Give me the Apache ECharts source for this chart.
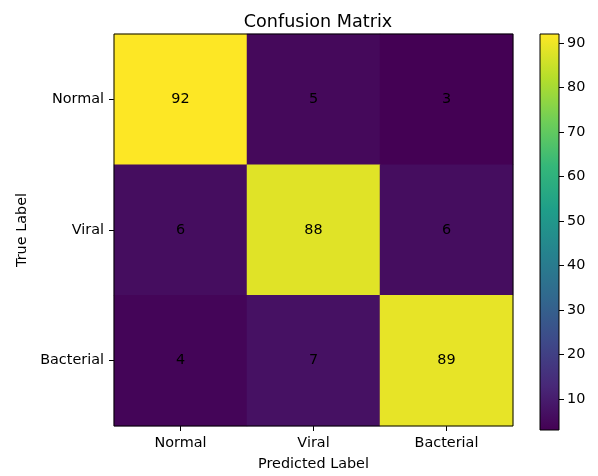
<!DOCTYPE html>
<html>
<head>
<meta charset="utf-8">
<script src="https://cdn.jsdelivr.net/npm/echarts@6/dist/echarts.min.js"></script>
<style>
  html, body { margin: 0; padding: 0; background: #fff; }
  #chart { width: 598px; height: 476px; }
</style>
</head>
<body>
<div id="chart"></div>
<script>
// class labels (rows = true label, columns = predicted label)
const classes = ["Normal", "Viral", "Bacterial"];
const rowNormal = [92, 5, 3];
const rowViral = [6, 88, 6];
const rowBacterial = [4, 7, 89];
const colorbarTicks = [10, 20, 30, 40, 50, 60, 70, 80, 90];

// viridis stops
const viridis = ["#440154", "#482878", "#3e4989", "#31688e", "#26828e",
  "#1f9e89", "#35b779", "#6ece58", "#b5de2b", "#fde725"];

const rows = [rowNormal, rowViral, rowBacterial];
const cells = [];
rows.forEach((r, i) => r.forEach((v, j) => cells.push([j, i, v])));
const allVals = cells.map(c => c[2]);
const vMin = Math.min(...allVals);
const vMax = Math.max(...allVals);

const font = "DejaVu Sans";
const fs = 14.4;
const txt = { color: "#000", fontFamily: font, fontSize: fs };

// gradient for the colour bar, top = max
const barStops = viridis.map((c, k) => ({ offset: 1 - k / (viridis.length - 1), color: c }));

const chart = echarts.init(document.getElementById("chart"));
chart.setOption({
  animation: false,
  backgroundColor: "#fff",
  title: {
    text: "Confusion Matrix",
    left: 313,
    top: 8,
    textAlign: "center",
    textStyle: { color: "#000", fontFamily: font, fontSize: 17.6, fontWeight: "normal" }
  },
  grid: [
    { left: 114, top: 34, width: 399, height: 396, show: true, borderColor: "#000", borderWidth: 1, backgroundColor: "transparent", z: 5 },
    { left: 540, top: 34, width: 19, height: 396, show: true, borderColor: "#000", borderWidth: 1, backgroundColor: "transparent", z: 5 }
  ],
  xAxis: [
    {
      type: "category", data: classes, gridIndex: 0,
      name: "Predicted Label", nameLocation: "middle", nameGap: 31,
      nameTextStyle: txt,
      axisLine: { show: false },
      axisTick: { show: true, length: 5, alignWithLabel: true, lineStyle: { color: "#000" } },
      axisLabel: Object.assign({ margin: 10 }, txt),
      splitLine: { show: false }
    },
    {
      type: "category", data: ["cb"], gridIndex: 1,
      axisLine: { show: false }, axisTick: { show: false }, axisLabel: { show: false }
    }
  ],
  yAxis: [
    {
      type: "category", data: classes, gridIndex: 0, inverse: true,
      name: "True Label", nameLocation: "middle", nameGap: 84, nameRotate: 90,
      nameTextStyle: txt,
      axisLine: { show: false },
      axisTick: { show: true, length: 5, alignWithLabel: true, lineStyle: { color: "#000" } },
      axisLabel: Object.assign({ margin: 10 }, txt),
      splitLine: { show: false }
    },
    {
      type: "value", gridIndex: 1, position: "right", min: vMin, max: vMax,
      axisLine: { show: false },
      axisTick: { show: true, length: 5, customValues: colorbarTicks, lineStyle: { color: "#000" } },
      axisLabel: Object.assign({ margin: 8, customValues: colorbarTicks }, txt),
      splitLine: { show: false }
    }
  ],
  visualMap: {
    show: false, type: "continuous", min: vMin, max: vMax, seriesIndex: 0,
    inRange: { color: viridis }
  },
  series: [
    {
      type: "heatmap", xAxisIndex: 0, yAxisIndex: 0, data: cells,
      label: { show: true, color: "#000", fontFamily: font, fontSize: fs },
      itemStyle: { borderWidth: 0 }
    },
    {
      type: "bar", xAxisIndex: 1, yAxisIndex: 1, data: [vMax], barWidth: "100%",
      itemStyle: { color: new echarts.graphic.LinearGradient(0, 0, 0, 1, barStops) },
      silent: true
    }
  ]
});
</script>
</body>
</html>
